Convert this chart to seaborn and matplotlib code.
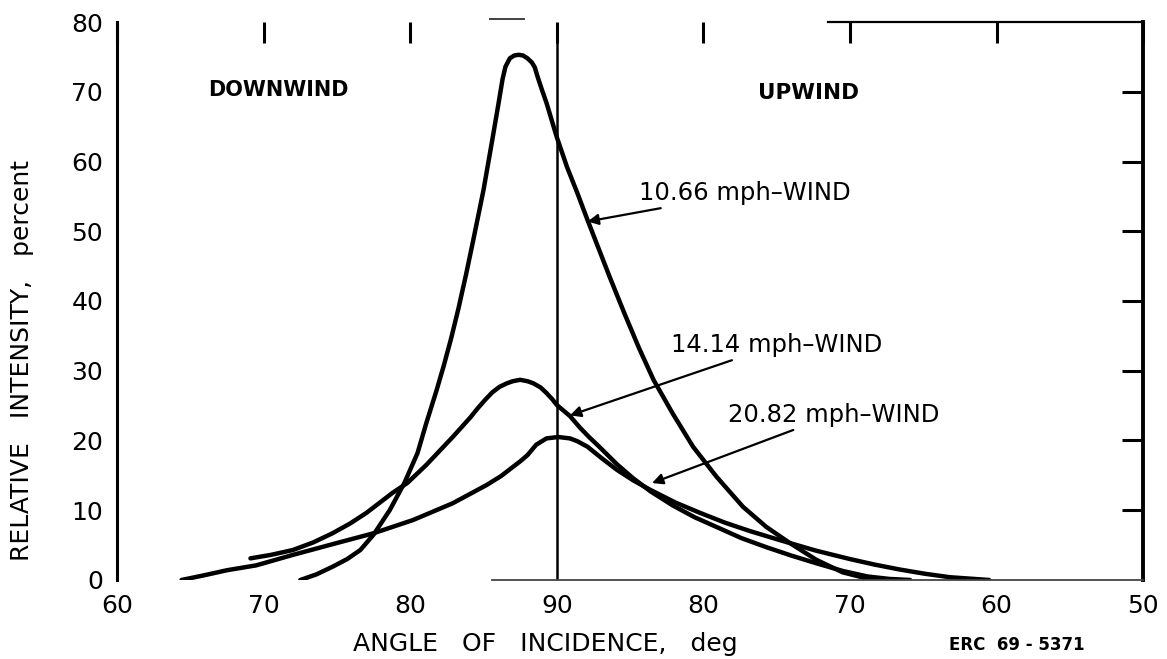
import numpy as np
import pandas as pd
import matplotlib
matplotlib.use("Agg")
import matplotlib.pyplot as plt
import seaborn as sns

# ---- data -------------------------------------------------------------
# Horizontal position runs along the folded angle axis:
# 60 -> 90 deg (downwind) then 90 -> 50 deg (upwind)
tick_pos = [0, 10, 20, 30, 40, 50, 60, 70]
tick_labels = ["60", "70", "80", "90", "80", "70", "60", "50"]
y_ticks = [0, 10, 20, 30, 40, 50, 60, 70, 80]

x_1066 = [12.5, 13.6, 14.7, 15.7, 16.6, 17.5, 18.6, 19.6, 20.5, 21.1, 21.8, 22.3,
          22.8, 23.3, 23.8, 24.3, 25.0, 25.6, 26.0, 26.3, 26.5, 26.8, 27.1, 27.4, 27.7,
          28.0, 28.3, 28.5, 28.7, 29.0, 29.3, 30.0, 30.7, 31.4, 32.1, 32.6, 33.6,
          34.6, 35.6, 36.6, 37.9, 39.3, 40.9, 42.7, 44.3, 45.9, 47.7, 49.5, 51.0, 52.5]
y_1066 = [0.0, 0.8, 1.9, 3.0, 4.3, 6.5, 10.0, 13.9, 18.2, 22.5, 27.2, 30.8,
          34.7, 39.0, 43.7, 48.7, 55.9, 63.1, 68.0, 71.8, 73.6, 74.8, 75.2, 75.3, 75.2,
          74.8, 74.2, 73.5, 72.1, 70.2, 68.4, 63.5, 59.2, 55.5, 51.6, 48.9, 43.5,
          38.3, 33.3, 28.7, 23.9, 19.1, 14.8, 10.5, 7.6, 5.3, 2.9, 1.1, 0.3, 0.0]

x_1414 = [9.1, 10.5, 12.0, 13.4, 14.7, 15.9, 17.0, 18.8, 19.8, 21.1, 22.0, 22.9,
          23.5, 24.1, 24.6, 25.1, 25.6, 26.1, 26.6, 27.0, 27.5, 28.0, 28.4, 28.9, 29.3,
          29.7, 30.0, 30.9, 31.6, 32.2, 32.9, 34.1, 35.2, 36.4, 37.9, 39.4, 40.9,
          42.6, 44.3, 46.0, 47.7, 49.5, 51.2, 52.7, 54.1]
y_1414 = [3.1, 3.6, 4.3, 5.4, 6.7, 8.1, 9.6, 12.5, 13.9, 16.5, 18.5, 20.5,
          21.9, 23.3, 24.6, 25.8, 26.9, 27.7, 28.2, 28.5, 28.7, 28.5, 28.2, 27.6, 26.8,
          25.9, 25.1, 23.5, 21.8, 20.5, 19.1, 16.6, 14.6, 12.7, 10.7, 9.0, 7.6,
          6.0, 4.7, 3.5, 2.4, 1.3, 0.5, 0.15, 0.0]

x_2082 = [4.4, 6.0, 7.5, 9.5, 12.0, 15.0, 17.5, 20.2, 22.9, 25.2, 26.2, 27.0,
          27.5, 28.0, 28.6, 29.3, 30.1, 30.9, 31.4, 32.1, 33.1, 34.1, 35.2, 36.4,
          38.1, 39.8, 41.5, 43.2, 45.4, 47.7, 50.0, 51.7, 53.4, 55.1, 56.8, 59.5]
y_2082 = [0.0, 0.7, 1.4, 2.1, 3.6, 5.3, 6.7, 8.6, 11.0, 13.6, 14.9, 16.2,
          17.0, 17.9, 19.4, 20.3, 20.5, 20.3, 19.9, 19.1, 17.4, 15.8, 14.3, 12.9,
          11.1, 9.6, 8.2, 7.0, 5.6, 4.2, 3.0, 2.2, 1.5, 0.9, 0.4, 0.0]

series_names = ["10.66 mph–WIND", "14.14 mph–WIND", "20.82 mph–WIND"]

df = pd.concat([
    pd.DataFrame({"pos": x_1066, "intensity": y_1066, "wind": series_names[0]}),
    pd.DataFrame({"pos": x_1414, "intensity": y_1414, "wind": series_names[1]}),
    pd.DataFrame({"pos": x_2082, "intensity": y_2082, "wind": series_names[2]}),
], ignore_index=True)

# ---- style ------------------------------------------------------------
sns.set_style("white")
plt.rcParams["font.family"] = ["DejaVu Sans"]
plt.rcParams["text.color"] = "black"
plt.rcParams["axes.labelcolor"] = "black"
plt.rcParams["xtick.color"] = "black"
plt.rcParams["ytick.color"] = "black"

fig = plt.figure(figsize=(11.67, 6.59), dpi=100)
ax = fig.add_axes([0.1003, 0.1199, 0.8792, 0.8467])

sns.lineplot(data=df, x="pos", y="intensity", hue="wind",
             palette=["black"] * 3, estimator=None, sort=False,
             legend=False, linewidth=3.2, ax=ax,
             solid_joinstyle="round", solid_capstyle="round")

ax.set_xlim(0, 70)
ax.set_ylim(0, 80)

# frame (partial, as in the original drawing)
for s in ["left", "right", "top", "bottom"]:
    ax.spines[s].set_color("black")
ax.spines["left"].set_linewidth(2.2)
ax.spines["right"].set_linewidth(2.8)
ax.spines["top"].set_linewidth(1.6)
ax.spines["bottom"].set_linewidth(1.3)
ax.spines["bottom"].set_color("#444444")
ax.spines["top"].set_bounds(48.5, 70)
ax.spines["bottom"].set_bounds(25.6, 70)
ax.hlines(80.5, 25.4, 27.8, color="#333333", lw=1.3, clip_on=False)

# 90-degree (vertical) reference line
ax.axvline(30, ymin=0, ymax=0.99, color="black", lw=1.8)

ax.set_xticks(tick_pos, tick_labels)
ax.set_yticks(y_ticks)
ax.tick_params(axis="both", direction="in", length=15, width=2.2,
               labelsize=18, top=True, right=True,
               labeltop=False, labelright=False, pad=10, colors="black")
for t in (ax.yaxis.get_major_ticks()[0], ax.yaxis.get_major_ticks()[-1]):
    t.tick1line.set_visible(False)
    t.tick2line.set_visible(False)

ax.set_xlabel("ANGLE   OF   INCIDENCE,   deg", fontsize=18)
ax.xaxis.set_label_coords(0.417, -0.093)
ax.set_ylabel("RELATIVE   INTENSITY,   percent", fontsize=18)
ax.yaxis.set_label_coords(-0.081, 0.394)

# region labels
ax.text(6.2, 70.2, "DOWNWIND", fontsize=15, fontweight="bold", va="center", ha="left")
ax.text(43.7, 69.8, "UPWIND", fontsize=15.5, fontweight="bold", va="center", ha="left")

# curve labels with arrows
arrow = dict(arrowstyle="-|>", color="black", lw=1.6, mutation_scale=16,
             shrinkA=0, shrinkB=0)
ax.annotate(series_names[0], xy=(32.1, 51.4), xytext=(35.6, 55.5),
            fontsize=17.5, va="center", ha="left", arrowprops=arrow)
ax.annotate(series_names[1], xy=(30.9, 23.6), xytext=(37.8, 33.7),
            fontsize=17.5, va="center", ha="left", arrowprops=arrow)
ax.annotate(series_names[2], xy=(36.5, 13.9), xytext=(41.7, 23.7),
            fontsize=17.5, va="center", ha="left", arrowprops=arrow)

fig.text(1017 / 1167, 1 - 645 / 659, "ERC  69 - 5371", fontsize=12,
         fontweight="bold", ha="center", va="center")

fig.savefig("out.png", dpi=100)
